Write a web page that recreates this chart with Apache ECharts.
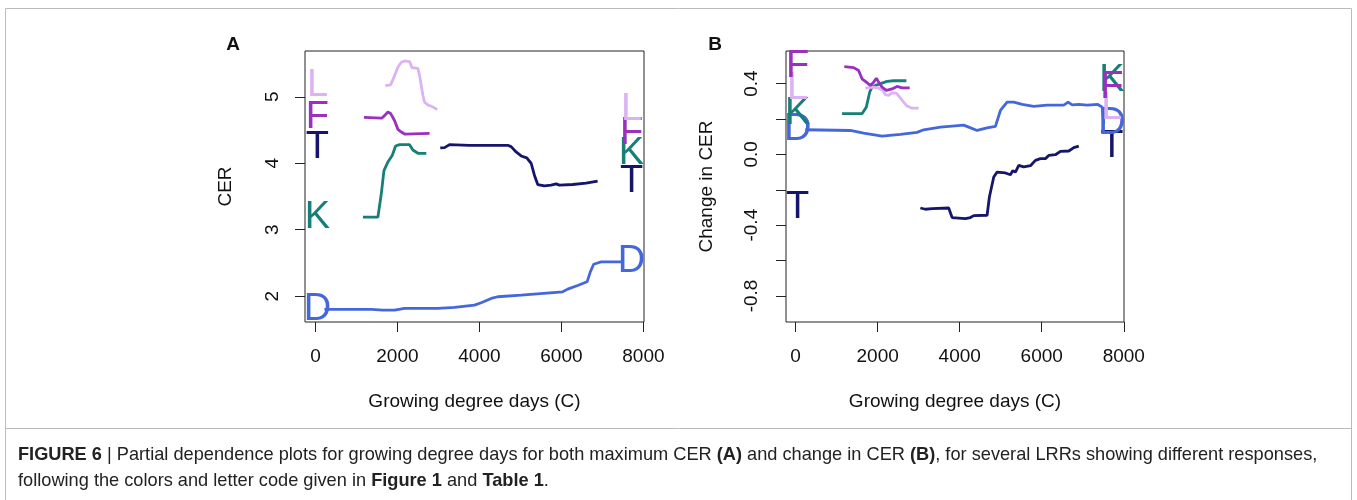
<!DOCTYPE html>
<html>
<head>
<meta charset="utf-8">
<script src="https://cdn.jsdelivr.net/npm/echarts@6/dist/echarts.min.js"></script>
<style>
html,body{margin:0;padding:0;background:#fff;}
#chart{width:1357px;height:500px;}
</style>
</head>
<body>
<div id="chart"></div>
<script>
// ---------- data (growing degree days, value) ----------
// Panel A: maximum CER
const cerL = [[1705,5.17],[1835,5.18],[1932,5.32],[2015,5.45],[2095,5.52],[2175,5.54],[2297,5.53],[2354,5.44],[2500,5.43],[2541,5.32],[2622,5.02],[2663,4.92],[2760,4.87],[2826,4.86],[2972,4.81]];
const cerF = [[1184,4.69],[1623,4.68],[1688,4.72],[1769,4.77],[1834,4.75],[1932,4.64],[2013,4.51],[2095,4.47],[2175,4.44],[2784,4.45]];
const cerT = [[3045,4.23],[3150,4.235],[3272,4.28],[3759,4.27],[4692,4.27],[4774,4.25],[4896,4.17],[5018,4.11],[5155,4.08],[5262,4.00],[5342,3.82],[5423,3.68],[5586,3.66],[5749,3.67],[5871,3.69],[5951,3.67],[6276,3.68],[6601,3.70],[6884,3.73]];
const cerK = [[1160,3.19],[1525,3.19],[1607,3.54],[1672,3.89],[1769,4.02],[1876,4.12],[1956,4.26],[2054,4.28],[2297,4.28],[2378,4.20],[2500,4.15],[2704,4.15]];
const cerD = [[220,1.80],[1364,1.80],[1647,1.79],[1932,1.79],[2175,1.815],[2987,1.815],[3393,1.83],[3880,1.865],[4044,1.90],[4287,1.965],[4448,1.99],[5018,2.015],[6032,2.065],[6153,2.105],[6397,2.16],[6626,2.215],[6706,2.365],[6787,2.48],[6967,2.515],[7493,2.515]];
// Panel B: change in CER
const dcerF = [[1188,0.496],[1415,0.49],[1537,0.474],[1619,0.427],[1724,0.408],[1822,0.389],[1902,0.408],[1968,0.43],[2025,0.408],[2107,0.38],[2212,0.361],[2351,0.37],[2473,0.384],[2595,0.376],[2781,0.376]];
const dcerL = [[1700,0.374],[1902,0.38],[2025,0.374],[2131,0.361],[2188,0.337],[2269,0.333],[2351,0.348],[2456,0.346],[2537,0.323],[2634,0.295],[2717,0.273],[2839,0.261],[3000,0.261]];
const dcerK = [[1132,0.23],[1619,0.23],[1724,0.267],[1805,0.351],[1863,0.38],[1985,0.393],[2229,0.412],[2390,0.416],[2700,0.416]];
const dcerD = [[237,0.139],[1334,0.135],[1658,0.12],[2107,0.103],[2554,0.113],[2961,0.124],[3122,0.139],[3529,0.154],[4098,0.165],[4220,0.154],[4424,0.135],[4668,0.15],[4871,0.158],[4993,0.248],[5156,0.295],[5318,0.295],[5522,0.282],[5805,0.271],[6132,0.278],[6537,0.278],[6644,0.295],[6741,0.28],[6903,0.282],[7107,0.278],[7366,0.282],[7473,0.267],[7512,0.175]];
const dcerT = [[3041,-0.303],[3163,-0.31],[3327,-0.306],[3732,-0.303],[3815,-0.357],[4139,-0.363],[4261,-0.357],[4342,-0.346],[4668,-0.344],[4724,-0.241],[4830,-0.128],[4912,-0.1],[5115,-0.105],[5237,-0.115],[5293,-0.092],[5359,-0.1],[5439,-0.062],[5561,-0.071],[5724,-0.064],[5846,-0.034],[5968,-0.024],[6090,-0.024],[6171,-0.006],[6334,-0.002],[6456,0.017],[6659,0.019],[6781,0.038],[6903,0.047]];

// tick values
const xTicks = [0, 2000, 4000, 6000, 8000];
const yTicksA = [2, 3, 4, 5];
const yTicksB = [-0.8, -0.6, -0.4, -0.2, 0, 0.2, 0.4];
const yLabelsB = [-0.8, -0.4, 0, 0.4];
// letter label x positions (GDD)
const letterXLeft = 50;
const letterXRight = 7710;

const colors = {L:'#DDB2F2', F:'#9A2FC0', T:'#15156C', K:'#177F77', D:'#4567DC'};
const FONT = "'Liberation Sans', Arial, Helvetica, sans-serif";

const panels = [
  {idx:0, order:['D','K','T','F','L'], data:{L:cerL, F:cerF, T:cerT, K:cerK, D:cerD}},
  {idx:1, order:['T','D','K','L','F'], data:{L:dcerL, F:dcerF, T:dcerT, K:dcerK, D:dcerD}}
];

const series = [];
panels.forEach(p => {
  p.order.forEach(k => {
    const arr = p.data[k];
    series.push({
      type:'line', name:k, xAxisIndex:p.idx, yAxisIndex:p.idx, data:arr,
      symbol:'none', showSymbol:false, animation:false, silent:true,
      lineStyle:{color:colors[k], width:2.8}, z:2
    });
  });
  p.order.forEach(k => {
    const arr = p.data[k];
    series.push({
      type:'scatter', name:k+'lbl', xAxisIndex:p.idx, yAxisIndex:p.idx,
      data:[[letterXLeft, arr[0][1], k],[letterXRight, arr[arr.length-1][1], k]],
      symbolSize:0, animation:false, silent:true, clip:false, z:3,
      itemStyle:{opacity:1, color:colors[k]},
      label:{show:true, position:'inside', formatter:(d)=>d.data[2], opacity:1,
        fontSize:38, color:colors[k], fontFamily:FONT}
    });
  });
});

const axisCommon = {
  type:'value', axisLine:{show:false, onZero:false}, splitLine:{show:false},
  axisTick:{show:true, length:10, inside:false, lineStyle:{color:'#222', width:1}},
  axisLabel:{fontSize:19, color:'#111', fontFamily:FONT},
  nameTextStyle:{fontSize:19, color:'#111', fontFamily:FONT}
};

function xAxisFor(gi, min, max){
  return Object.assign({}, axisCommon, {
    gridIndex:gi, min:min, max:max,
    axisTick:Object.assign({}, axisCommon.axisTick, {customValues:xTicks}),
    axisLabel:Object.assign({}, axisCommon.axisLabel, {customValues:xTicks, margin:25, formatter:(v)=>String(v)}),
    name:'Growing degree days (C)', nameLocation:'middle', nameGap:70
  });
}

const CAP_FONT = "'Liberation Sans', Arial, sans-serif";

const option = {
  backgroundColor:'#fff',
  animation:false,
  grid:[
    {left:305, top:51, width:339, height:271, show:true, borderColor:'#222', borderWidth:1, backgroundColor:'transparent'},
    {left:786, top:51, width:338, height:271, show:true, borderColor:'#222', borderWidth:1, backgroundColor:'transparent'}
  ],
  xAxis:[ xAxisFor(0, -254, 8015), xAxisFor(1, -234, 8005) ],
  yAxis:[
    Object.assign({}, axisCommon, {
      gridIndex:0, min:1.61, max:5.69,
      axisTick:Object.assign({}, axisCommon.axisTick, {customValues:yTicksA}),
      axisLabel:Object.assign({}, axisCommon.axisLabel, {customValues:yTicksA, rotate:90, margin:23, formatter:(v)=>String(v)}),
      name:'CER', nameLocation:'middle', nameGap:70, nameRotate:90
    }),
    Object.assign({}, axisCommon, {
      gridIndex:1, min:-0.947, max:0.584,
      axisTick:Object.assign({}, axisCommon.axisTick, {customValues:yTicksB}),
      axisLabel:Object.assign({}, axisCommon.axisLabel, {customValues:yLabelsB, rotate:90, margin:25,
        formatter:(v)=>v.toFixed(1)}),
      name:'Change in CER', nameLocation:'middle', nameGap:70, nameRotate:90
    })
  ],
  graphic:[
    {type:'rect', shape:{x:5.5, y:8.5, width:1346, height:600}, style:{fill:'none', stroke:'#bbb', lineWidth:1}, silent:true},
    {type:'line', shape:{x1:5.5, y1:428.5, x2:1351.5, y2:428.5}, style:{stroke:'#bbb', lineWidth:1}, silent:true},
    {type:'text', x:233, y:45, style:{text:'A', font:"bold 19px "+FONT, fill:'#111', align:'center', verticalAlign:'middle'}},
    {type:'text', x:715, y:45, style:{text:'B', font:"bold 19px "+FONT, fill:'#111', align:'center', verticalAlign:'middle'}},
    {type:'text', x:18, y:455, scaleX:0.958, style:{
      text:'{b|FIGURE 6} | Partial dependence plots for growing degree days for both maximum CER {b|(A)} and change in CER {b|(B)}, for several LRRs showing different responses,',
      fontFamily:CAP_FONT, fontSize:19, fill:'#222', verticalAlign:'middle',
      rich:{b:{fontWeight:'bold', fontFamily:CAP_FONT, fontSize:19, fill:'#222'}}
    }},
    {type:'text', x:18, y:481, scaleX:0.958, style:{
      text:'following the colors and letter code given in {b|Figure 1} and {b|Table 1}.',
      fontFamily:CAP_FONT, fontSize:19, fill:'#222', verticalAlign:'middle',
      rich:{b:{fontWeight:'bold', fontFamily:CAP_FONT, fontSize:19, fill:'#222'}}
    }}
  ],
  series:series
};

const chart = echarts.init(document.getElementById('chart'), null, {renderer:'canvas'});
chart.setOption(option);
</script>
</body>
</html>
